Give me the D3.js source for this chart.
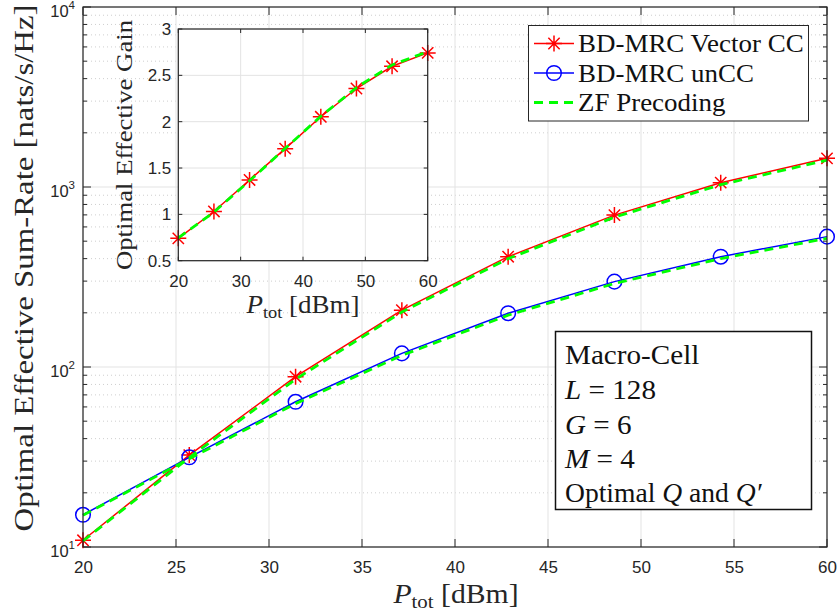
<!DOCTYPE html>
<html><head><meta charset="utf-8">
<script src="https://cdn.jsdelivr.net/npm/d3@7"></script>
<style>body{margin:0;background:#fff}svg{display:block}</style>
</head><body>
<svg id="c" width="838" height="615"></svg>
<script>
// ---- data ----
const powerDbm = [20, 25.714, 31.429, 37.143, 42.857, 48.571, 54.286, 60];
const vectorCC = [10.9, 32.4, 88.3, 207, 410, 698, 1057, 1443];
const unCC = [15.1, 31.5, 64.1, 119, 199, 298, 410, 530];
const zfVector = [10.8, 31.4, 85.5, 202, 400, 680, 1030, 1410];
const zfUnCC = [15.0, 30.9, 62.6, 116, 194, 291, 400, 518];
const gainVector = [0.741, 1.031, 1.371, 1.709, 2.053, 2.358, 2.598, 2.742];
const gainZF = [0.745, 1.025, 1.362, 1.712, 2.058, 2.368, 2.612, 2.755];
const xTicks = [20, 25, 30, 35, 40, 45, 50, 55, 60];
const yDecades = [1, 2, 3, 4];
const insetXTicks = [20, 30, 40, 50, 60];
const insetYTicks = [0.5, 1, 1.5, 2, 2.5, 3];
const insetYLabels = ["0.5", "1", "1.5", "2", "2.5", "3"];
const legendNames = ["BD-MRC Vector CC", "BD-MRC unCC", "ZF Precoding"];
const infoLines = ["Macro-Cell", "L = 128", "G = 6", "M = 4", "Optimal Q and Q′"];

const svg = d3.select("#c");
const AX = "#262626", GRID = "#e3e3e3";
const SANS = "'Liberation Sans', Arial, sans-serif";
const SERIF = "'Liberation Serif', 'Times New Roman', serif";

// widen serif text to emulate Computer Modern proportions
function widen(t, f) {
  const L = t.node().getComputedTextLength();
  t.attr("textLength", L * f).attr("lengthAdjust", "spacingAndGlyphs");
  return t;
}

// ---- main axes ----
const x = d3.scaleLinear().domain([20, 60]).range([83, 827]);
const y = d3.scaleLog().domain([10, 10000]).range([547, 7]);
const g = svg.append("g");

const minorVals = [];
yDecades.slice(0, 3).forEach(d => { for (let k = 2; k <= 9; k++) minorVals.push(k * Math.pow(10, d)); });
g.selectAll(".mg").data(minorVals).enter().append("line")
  .attr("x1", x(20)).attr("x2", x(60)).attr("y1", d => y(d)).attr("y2", d => y(d))
  .attr("stroke", "#cfcfcf").attr("stroke-width", 1).attr("stroke-dasharray", "1,3");
g.selectAll(".gx").data(xTicks).enter().append("line")
  .attr("x1", d => x(d)).attr("x2", d => x(d)).attr("y1", y(10)).attr("y2", y(10000))
  .attr("stroke", GRID).attr("stroke-width", 1);
g.selectAll(".gy").data(yDecades).enter().append("line")
  .attr("x1", x(20)).attr("x2", x(60)).attr("y1", d => y(Math.pow(10, d))).attr("y2", d => y(Math.pow(10, d)))
  .attr("stroke", GRID).attr("stroke-width", 1);

const xAxisB = d3.axisBottom(x).tickValues(xTicks).tickSize(0).tickPadding(14).tickFormat(d3.format("d"));
const gxB = svg.append("g").attr("transform", `translate(0,${y(10)})`).call(xAxisB);
gxB.select(".domain").remove();
gxB.selectAll("text").attr("font-family", SANS).attr("font-size", 17).attr("fill", AX);

function tickMarks(sel, vals, f, len) {
  sel.selectAll(null).data(vals).enter().append("line").each(function (d) { f(d3.select(this), d, len); })
    .attr("stroke", AX).attr("stroke-width", 1);
}
const tk = svg.append("g");
tickMarks(tk, xTicks, (s, d, l) => s.attr("x1", x(d)).attr("x2", x(d)).attr("y1", y(10)).attr("y2", y(10) - l), 8);
tickMarks(tk, xTicks, (s, d, l) => s.attr("x1", x(d)).attr("x2", x(d)).attr("y1", y(10000)).attr("y2", y(10000) + l), 8);
tickMarks(tk, yDecades.map(d => Math.pow(10, d)), (s, d, l) => s.attr("x1", x(20)).attr("x2", x(20) + l).attr("y1", y(d)).attr("y2", y(d)), 8);
tickMarks(tk, yDecades.map(d => Math.pow(10, d)), (s, d, l) => s.attr("x1", x(60)).attr("x2", x(60) - l).attr("y1", y(d)).attr("y2", y(d)), 8);
tickMarks(tk, minorVals, (s, d, l) => s.attr("x1", x(20)).attr("x2", x(20) + l).attr("y1", y(d)).attr("y2", y(d)), 4);
tickMarks(tk, minorVals, (s, d, l) => s.attr("x1", x(60)).attr("x2", x(60) - l).attr("y1", y(d)).attr("y2", y(d)), 4);

const yl = svg.append("g");
yDecades.forEach(d => {
  const t = yl.append("text").attr("x", 75).attr("y", y(Math.pow(10, d)) + 10)
    .attr("text-anchor", "end").attr("font-family", SANS).attr("font-size", 16.5).attr("fill", AX);
  t.append("tspan").text("10");
  t.append("tspan").attr("dy", -8.5).attr("font-size", 11.5).text(String(d));
});

// ---- series main ----
const lineMain = arr => d3.line().x((d, i) => x(powerDbm[i])).y(d => y(d))(arr);
function starPath(r) {
  const a = r * Math.SQRT1_2;
  return `M${-r},0L${r},0M0,${-r}L0,${r}M${-a},${-a}L${a},${a}M${-a},${a}L${a},${-a}`;
}
const plot = svg.append("g");
plot.append("path").attr("d", lineMain(vectorCC)).attr("fill", "none").attr("stroke", "#ff0000").attr("stroke-width", 1.5);
plot.selectAll(".sv").data(vectorCC).enter().append("path")
  .attr("transform", (d, i) => `translate(${x(powerDbm[i])},${y(d)})`)
  .attr("d", starPath(8)).attr("stroke", "#ff0000").attr("stroke-width", 1.5).attr("fill", "none");
plot.append("path").attr("d", lineMain(unCC)).attr("fill", "none").attr("stroke", "#0000ff").attr("stroke-width", 1.5);
plot.selectAll(".su").data(unCC).enter().append("circle")
  .attr("cx", (d, i) => x(powerDbm[i])).attr("cy", d => y(d)).attr("r", 7.3)
  .attr("stroke", "#0000ff").attr("stroke-width", 1.5).attr("fill", "none");
[zfVector, zfUnCC].forEach(arr => {
  plot.append("path").attr("d", lineMain(arr)).attr("fill", "none").attr("stroke", "#00ff00")
    .attr("stroke-width", 2.8).attr("stroke-dasharray", "9,6");
});

svg.append("rect").attr("x", x(20)).attr("y", y(10000)).attr("width", x(60) - x(20)).attr("height", y(10) - y(10000))
  .attr("fill", "none").attr("stroke", AX).attr("stroke-width", 1.2);

// axis labels
const xl = svg.append("text").attr("x", 456).attr("y", 603).attr("text-anchor", "middle")
  .attr("font-family", SERIF).attr("font-size", 27).attr("fill", AX);
xl.append("tspan").attr("font-style", "italic").text("P");
xl.append("tspan").attr("font-size", 19).attr("dy", 5).text("tot");
xl.append("tspan").attr("dy", -5).text(" [dBm]");
widen(xl, 1.1);

svg.append("text").attr("transform", "translate(33,268) rotate(-90)").attr("text-anchor", "middle")
  .attr("font-family", SERIF).attr("font-size", 27).attr("fill", AX)
  .attr("textLength", 527).attr("lengthAdjust", "spacingAndGlyphs")
  .text("Optimal Effective Sum-Rate [nats/s/Hz]");

// ---- inset ----
const ix = d3.scaleLinear().domain([20, 60]).range([178.3, 427.7]);
const iy = d3.scaleLinear().domain([0.5, 3]).range([260.7, 29]);
const ins = svg.append("g");
ins.append("rect").attr("x", ix(20)).attr("y", iy(3)).attr("width", ix(60) - ix(20)).attr("height", iy(0.5) - iy(3)).attr("fill", "#fff");
ins.selectAll(".igx").data(insetXTicks).enter().append("line")
  .attr("x1", d => ix(d)).attr("x2", d => ix(d)).attr("y1", iy(0.5)).attr("y2", iy(3)).attr("stroke", GRID);
ins.selectAll(".igy").data(insetYTicks).enter().append("line")
  .attr("x1", ix(20)).attr("x2", ix(60)).attr("y1", d => iy(d)).attr("y2", d => iy(d)).attr("stroke", GRID);
const ixAxis = d3.axisBottom(ix).tickValues(insetXTicks).tickSize(0).tickPadding(14).tickFormat(d3.format("d"));
const igx = ins.append("g").attr("transform", `translate(0,${iy(0.5)})`).call(ixAxis);
igx.select(".domain").remove();
igx.selectAll("text").attr("font-family", SANS).attr("font-size", 17).attr("fill", AX);
const iyAxis = d3.axisLeft(iy).tickValues(insetYTicks).tickSize(0).tickPadding(7).tickFormat((d, i) => insetYLabels[i]);
const igy = ins.append("g").attr("transform", `translate(${ix(20)},0)`).call(iyAxis);
igy.select(".domain").remove();
igy.selectAll("text").attr("font-family", SANS).attr("font-size", 17).attr("fill", AX);
tickMarks(ins, insetXTicks, (s, d, l) => s.attr("x1", ix(d)).attr("x2", ix(d)).attr("y1", iy(0.5)).attr("y2", iy(0.5) - l), 4);
tickMarks(ins, insetXTicks, (s, d, l) => s.attr("x1", ix(d)).attr("x2", ix(d)).attr("y1", iy(3)).attr("y2", iy(3) + l), 4);
tickMarks(ins, insetYTicks, (s, d, l) => s.attr("x1", ix(20)).attr("x2", ix(20) + l).attr("y1", iy(d)).attr("y2", iy(d)), 4);
tickMarks(ins, insetYTicks, (s, d, l) => s.attr("x1", ix(60)).attr("x2", ix(60) - l).attr("y1", iy(d)).attr("y2", iy(d)), 4);

const lineIn = arr => d3.line().x((d, i) => ix(powerDbm[i])).y(d => iy(d))(arr);
ins.append("path").attr("d", lineIn(gainVector)).attr("fill", "none").attr("stroke", "#ff0000").attr("stroke-width", 1.5);
ins.selectAll(".iv").data(gainVector).enter().append("path")
  .attr("transform", (d, i) => `translate(${ix(powerDbm[i])},${iy(d)})`)
  .attr("d", starPath(8)).attr("stroke", "#ff0000").attr("stroke-width", 1.5).attr("fill", "none");
ins.append("path").attr("d", lineIn(gainZF)).attr("fill", "none").attr("stroke", "#00ff00")
  .attr("stroke-width", 2.8).attr("stroke-dasharray", "9,6");
ins.append("rect").attr("x", ix(20)).attr("y", iy(3)).attr("width", ix(60) - ix(20)).attr("height", iy(0.5) - iy(3))
  .attr("fill", "none").attr("stroke", AX).attr("stroke-width", 1.2);

const ixl = svg.append("text").attr("x", 303).attr("y", 313).attr("text-anchor", "middle")
  .attr("font-family", SERIF).attr("font-size", 25).attr("fill", AX);
ixl.append("tspan").attr("font-style", "italic").text("P");
ixl.append("tspan").attr("font-size", 17).attr("dy", 5).text("tot");
ixl.append("tspan").attr("dy", -5).text(" [dBm]");
widen(ixl, 1.08);
svg.append("text").attr("transform", "translate(132,145) rotate(-90)").attr("text-anchor", "middle")
  .attr("font-family", SERIF).attr("font-size", 24).attr("fill", AX)
  .attr("textLength", 250).attr("lengthAdjust", "spacingAndGlyphs")
  .text("Optimal Effective Gain");

// ---- legend ----
const lg = svg.append("g");
lg.append("rect").attr("x", 528.5).attr("y", 25.5).attr("width", 280).attr("height", 95.5)
  .attr("fill", "#fff").attr("stroke", AX).attr("stroke-width", 1);
const rowY = [43.5, 73, 102.5];
const lstyles = [{ c: "#ff0000", w: 1.5, dash: null, m: "star" }, { c: "#0000ff", w: 1.5, dash: null, m: "circle" }, { c: "#00ff00", w: 2.8, dash: "9,6", m: null }];
legendNames.forEach((name, i) => {
  const st = lstyles[i];
  lg.append("line").attr("x1", 534).attr("x2", 574).attr("y1", rowY[i]).attr("y2", rowY[i])
    .attr("stroke", st.c).attr("stroke-width", st.w).attr("stroke-dasharray", st.dash);
  if (st.m === "star") lg.append("path").attr("transform", `translate(554,${rowY[i]})`).attr("d", starPath(8))
    .attr("stroke", st.c).attr("stroke-width", 1.5).attr("fill", "none");
  if (st.m === "circle") lg.append("circle").attr("cx", 554).attr("cy", rowY[i]).attr("r", 7.3)
    .attr("stroke", st.c).attr("stroke-width", 1.5).attr("fill", "none");
  const t = lg.append("text").attr("x", 578).attr("y", rowY[i] + 8.5).attr("font-family", SERIF).attr("font-size", 24.5)
    .attr("fill", "#111").text(name);
  widen(t, 1.1);
});

// ---- info box ----
const ib = svg.append("g");
ib.append("rect").attr("x", 555.5).attr("y", 331.5).attr("width", 256).attr("height", 178)
  .attr("fill", "#fff").attr("stroke", "#111").attr("stroke-width", 1.5);
const baseY = [364, 399, 433.5, 468, 502];
function infoLine(i, parts, f) {
  const t = ib.append("text").attr("x", 565).attr("y", baseY[i]).attr("font-family", SERIF).attr("font-size", 26.5).attr("fill", "#111");
  parts.forEach(p => t.append("tspan").attr("font-style", p[1] ? "italic" : "normal").text(p[0]));
  widen(t, f);
}
infoLine(0, [[infoLines[0], false]], 1.1);
infoLine(1, [["L", true], [" = 128", false]], 1.1);
infoLine(2, [["G", true], [" = 6", false]], 1.1);
infoLine(3, [["M", true], [" = 4", false]], 1.1);
infoLine(4, [["Optimal ", false], ["Q", true], [" and ", false], ["Q′", true]], 1.04);
</script>
</body></html>
